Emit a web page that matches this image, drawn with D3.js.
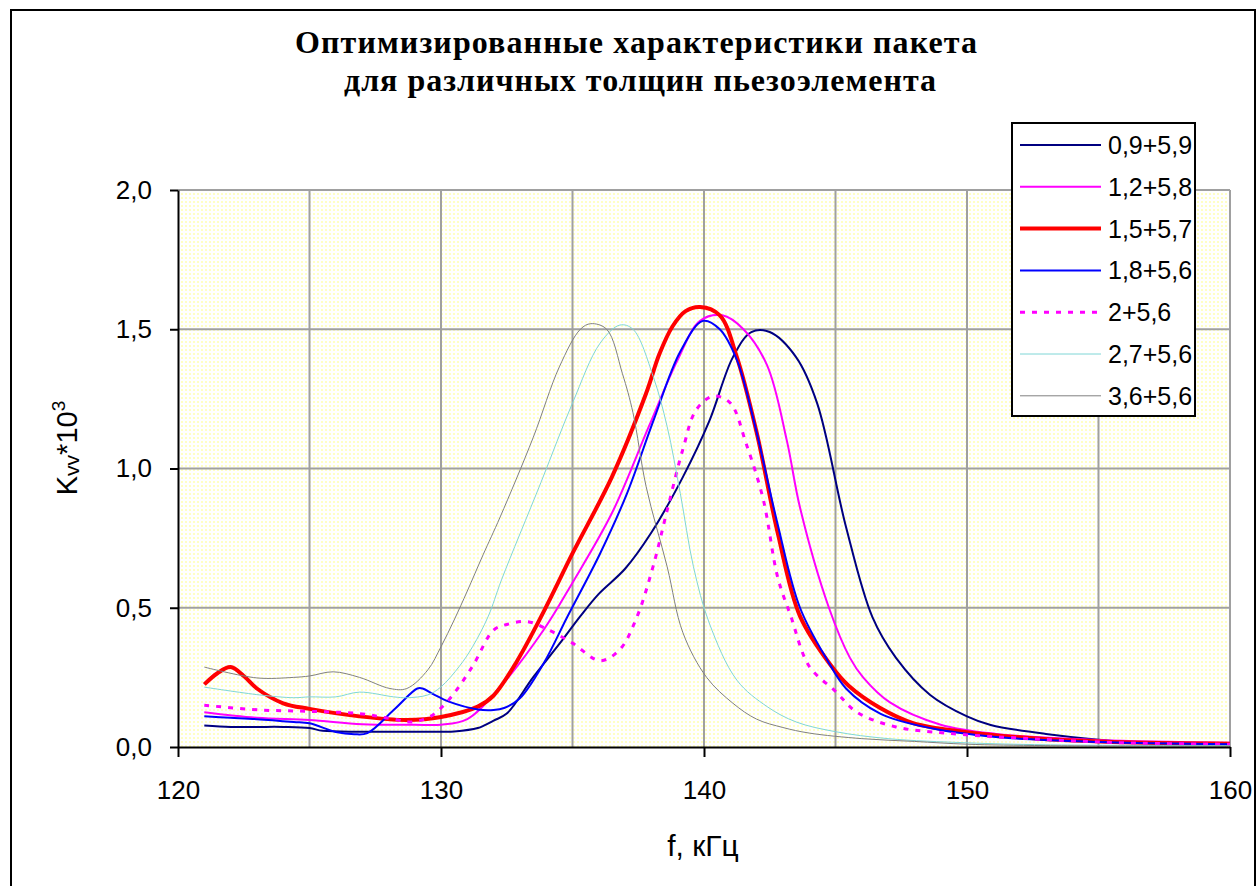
<!DOCTYPE html>
<html>
<head>
<meta charset="utf-8">
<script src="https://cdn.jsdelivr.net/npm/d3@7"></script>
<style>
  html, body { margin: 0; padding: 0; background: #fff; }
  svg { display: block; }
</style>
</head>
<body>
<svg id="chart" width="1257" height="886"></svg>
<script>
// ---- data ----
const titleLines = ["Оптимизированные характеристики пакета", "для различных толщин пьезоэлемента"];
const xTicks = [120, 130, 140, 150, 160];
const yTicks = [0, 0.5, 1.0, 1.5, 2.0];
const xGrid = [125, 130, 135, 140, 145, 150, 155, 160];
const yGrid = [0.5, 1.0, 1.5, 2.0];
const seriesNames = ["0,9+5,9", "1,2+5,8", "1,5+5,7", "1,8+5,6", "2+5,6", "2,7+5,6", "3,6+5,6"];

const f09 = [121,122,123,124,125,125.5,127,129,130.5,131.4,132,132.5,133.5,134.5,135.3,136,137,138,139.2,140.2,141.1,141.8,142.5,143.5,144.3,145.4,146.4,147.3,148.6,150,150.9,153,156.2,160];
const k09 = [0.077,0.072,0.072,0.072,0.068,0.058,0.055,0.055,0.056,0.068,0.095,0.12,0.25,0.37,0.47,0.55,0.64,0.77,0.97,1.17,1.40,1.49,1.49,1.40,1.235,0.79,0.467,0.32,0.187,0.11,0.079,0.047,0.018,0.01];

const f12 = [121,123,125,127,129,130,131,132.2,133.9,135,136.5,137.9,139,139.85,140.7,141.5,142.4,143.15,143.65,144.75,145.55,146.05,147.07,149,151.1,155,160];
const k12 = [0.125,0.105,0.097,0.082,0.08,0.08,0.1,0.21,0.42,0.59,0.84,1.15,1.39,1.53,1.55,1.50,1.37,1.10,0.86,0.5,0.32,0.25,0.16,0.08,0.047,0.025,0.015];

const f15 = [121,121.5,122,122.5,123,124,125,126.9,128.7,130,131.4,132,132.9,133.9,135,136.5,137.8,138.3,138.8,139.3,139.85,140.6,141.25,142,142.8,143.65,144.85,145.5,146.7,147.95,149.85,152.4,155.5,160];
const k15 = [0.225,0.265,0.287,0.255,0.21,0.157,0.137,0.11,0.097,0.108,0.145,0.185,0.31,0.485,0.695,0.97,1.27,1.41,1.51,1.565,1.58,1.55,1.40,1.13,0.77,0.47,0.29,0.22,0.14,0.086,0.055,0.032,0.018,0.012];

const f18 = [121,122,123,124.4,125,126,126.7,127.2,128.2,129.1,129.3,129.7,130.3,131.4,132,132.4,133,133.9,134.8,136.05,137.07,138.07,139.1,139.96,140.6,141.25,141.9,142.8,143.65,144.7,145.4,146.7,148.6,151.1,155,160];
const k18 = [0.11,0.105,0.1,0.09,0.085,0.054,0.046,0.05,0.133,0.21,0.21,0.19,0.163,0.135,0.133,0.14,0.175,0.30,0.467,0.695,0.91,1.17,1.42,1.53,1.50,1.39,1.17,0.80,0.50,0.31,0.21,0.12,0.068,0.036,0.018,0.01];

const f20 = [121,123.1,125,126.9,128.2,128.9,129.6,130.3,131.2,132,132.5,133.3,134.1,135,136.05,136.8,137.45,138.06,138.6,139.2,139.7,140.35,141,141.6,142.25,142.8,143.3,144,145,145.8,147.3,149.2,152.4,156,160];
const k20 = [0.15,0.133,0.128,0.12,0.1,0.09,0.11,0.17,0.29,0.42,0.44,0.45,0.42,0.373,0.31,0.35,0.467,0.647,0.85,1.07,1.21,1.26,1.235,1.09,0.89,0.61,0.47,0.29,0.2,0.126,0.072,0.05,0.03,0.015,0.01];

const f27 = [121,123.1,124.4,125,126,126.9,128.2,128.7,129.5,130,130.7,131.2,131.8,132.3,133.8,135,136.05,136.8,137.3,138.07,138.6,139.1,139.6,140.2,141.25,142.4,143.5,145,147,150,153,160];
const k27 = [0.215,0.187,0.177,0.18,0.18,0.197,0.18,0.177,0.187,0.216,0.29,0.36,0.47,0.6,0.95,1.235,1.45,1.515,1.50,1.33,1.15,0.91,0.647,0.445,0.24,0.145,0.09,0.055,0.03,0.015,0.008,0.005];

const f36 = [121,123,124.4,125,125.9,126.9,128.06,128.7,129.5,130,130.5,131,131.6,132.25,133.5,134.5,135.3,135.7,136.3,136.9,137.3,137.8,138.6,139.2,140.1,141.1,142,143,144,146,148,150,153,160];
const k36 = [0.287,0.248,0.25,0.255,0.27,0.25,0.21,0.21,0.277,0.36,0.456,0.56,0.69,0.826,1.11,1.365,1.50,1.52,1.50,1.34,1.2,0.935,0.647,0.41,0.25,0.157,0.1,0.07,0.05,0.03,0.02,0.01,0.005,0.003];

const seriesF = [f09, f12, f15, f18, f20, f27, f36];
const seriesK = [k09, k12, k15, k18, k20, k27, k36];

// ---- styles ----
const styles = [
  {color: "#000080", width: 2, dash: null},
  {color: "#FF00FF", width: 2, dash: null},
  {color: "#FF0000", width: 4, dash: null},
  {color: "#0000FF", width: 2, dash: null},
  {color: "#FF00FF", width: 3, dash: "5,7"},
  {color: "#7FD6D6", width: 1, dash: null},
  {color: "#808080", width: 1, dash: null}
];

const svg = d3.select("#chart");
const L = 178, R = 1230, T = 190, B = 747;
const x = d3.scaleLinear().domain([120, 160]).range([L, R]);
const y = d3.scaleLinear().domain([0, 2]).range([B, T]);

// outer border
svg.append("rect").attr("x", 11).attr("y", 10).attr("width", 1244).attr("height", 900)
  .attr("fill", "#fff").attr("stroke", "#000").attr("stroke-width", 2);

// pattern background
const defs = svg.append("defs");
const pat = defs.append("pattern").attr("id", "dots").attr("patternUnits", "userSpaceOnUse")
  .attr("width", 4).attr("height", 4);
pat.append("rect").attr("width", 4).attr("height", 4).attr("fill", "#FFFFFF");
pat.append("rect").attr("x", 1).attr("y", 1).attr("width", 2).attr("height", 2).attr("fill", "#FFFFC4");
defs.append("clipPath").attr("id", "plotclip").append("rect")
  .attr("x", L).attr("y", T - 3).attr("width", R - L + 2).attr("height", B - T + 3);

svg.append("rect").attr("x", L).attr("y", T).attr("width", R - L).attr("height", B - T)
  .attr("fill", "url(#dots)");

// grid
svg.append("g").selectAll("line").data(xGrid).join("line")
  .attr("x1", d => x(d)).attr("x2", d => x(d)).attr("y1", T).attr("y2", B)
  .attr("stroke", "#A0A0A0").attr("stroke-width", 2);
svg.append("g").selectAll("line").data(yGrid).join("line")
  .attr("x1", L).attr("x2", R).attr("y1", d => y(d)).attr("y2", d => y(d))
  .attr("stroke", "#A0A0A0").attr("stroke-width", 2);

// series
const line = d3.line().x(d => x(d[0])).y(d => y(d[1])).curve(d3.curveCatmullRom.alpha(0.5));
const gLines = svg.append("g").attr("clip-path", "url(#plotclip)");
seriesF.forEach((fs, i) => {
  const pts = fs.map((f, j) => [f, seriesK[i][j]]);
  const st = styles[i];
  gLines.append("path").datum(pts).attr("d", line)
    .attr("fill", "none").attr("stroke", st.color).attr("stroke-width", st.width)
    .attr("stroke-linejoin", "round")
    .attr("stroke-dasharray", st.dash);
});

// axes
const fmt = d => d3.format(".1f")(d).replace(".", ",");
const yAxis = svg.append("g").attr("transform", `translate(${L},0)`)
  .call(d3.axisLeft(y).tickValues(yTicks).tickFormat(fmt).tickSize(8).tickPadding(18).tickSizeOuter(0));
const xAxis = svg.append("g").attr("transform", `translate(0,${B})`)
  .call(d3.axisBottom(x).tickValues(xTicks).tickFormat(d3.format("d")).tickSize(10).tickPadding(24).tickSizeOuter(0));
[yAxis, xAxis].forEach(a => {
  a.select(".domain").attr("stroke", "#000").attr("stroke-width", 2);
  a.selectAll(".tick line").attr("stroke", "#000").attr("stroke-width", 2);
  a.selectAll(".tick text").attr("font-family", "Liberation Sans, Arial, sans-serif")
    .attr("font-size", 26).attr("fill", "#000");
});

// title
svg.append("g").selectAll("text").data(titleLines).join("text")
  .attr("x", (d, i) => i === 0 ? 636 : 640)
  .attr("y", (d, i) => i === 0 ? 53 : 91)
  .attr("text-anchor", "middle")
  .attr("font-family", "Liberation Serif, Times New Roman, serif")
  .attr("font-weight", "bold").attr("font-size", 32)
  .attr("textLength", (d, i) => i === 0 ? 682 : 592)
  .attr("lengthAdjust", "spacing")
  .text(d => d);

// x-axis title
svg.append("text").attr("x", 703).attr("y", 856).attr("text-anchor", "middle")
  .attr("font-family", "Liberation Sans, Arial, sans-serif").attr("font-size", 30)
  .text("f, кГц");

// y-axis title
const yt = svg.append("text").attr("transform", "translate(77,448) rotate(-90)")
  .attr("text-anchor", "middle")
  .attr("font-family", "Liberation Sans, Arial, sans-serif").attr("font-size", 29);
yt.append("tspan").text("K");
yt.append("tspan").attr("font-size", 21).attr("dy", 2).text("vv");
yt.append("tspan").attr("dy", -2).text("*10");
yt.append("tspan").attr("font-size", 19).attr("dy", -12).text("3");

// legend
const lg = svg.append("g");
lg.append("rect").attr("x", 1012).attr("y", 123).attr("width", 183).attr("height", 293)
  .attr("fill", "#fff").attr("stroke", "#000").attr("stroke-width", 2);
const rows = lg.selectAll("g.row").data(seriesNames).join("g").attr("class", "row")
  .attr("transform", (d, i) => `translate(0,${145 + i * 41.8})`);
rows.append("line").attr("x1", 1020).attr("x2", 1101).attr("y1", 0).attr("y2", 0)
  .attr("stroke", (d, i) => styles[i].color)
  .attr("stroke-width", (d, i) => styles[i].width)
  .attr("stroke-dasharray", (d, i) => styles[i].dash);
rows.append("text").attr("x", 1108).attr("y", 0).attr("dy", "0.36em")
  .attr("font-family", "Liberation Sans, Arial, sans-serif").attr("font-size", 25)
  .text(d => d);
</script>
</body>
</html>
